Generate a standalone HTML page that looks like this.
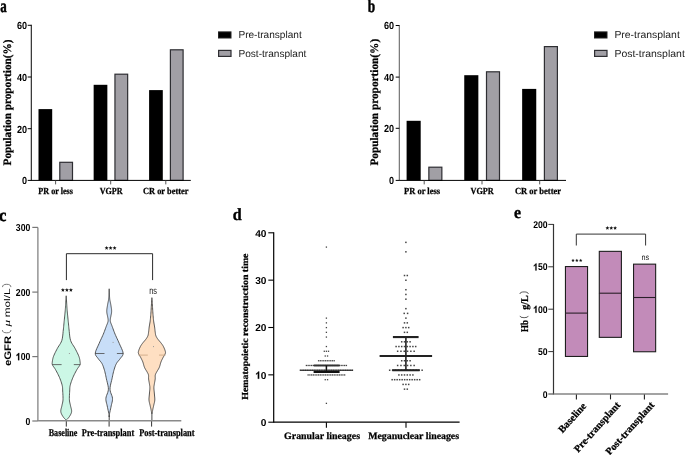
<!DOCTYPE html>
<html><head><meta charset="utf-8"><style>
html,body{margin:0;padding:0;background:#fff;}
svg{display:block;will-change:transform;} text{text-rendering:geometricPrecision;}
</style></head><body>
<svg width="685" height="455" viewBox="0 0 685 455">
<rect width="685" height="455" fill="#fff"/>
<text x="0.36" y="11.9" font-family='"Liberation Serif", serif' font-size="18" font-weight="bold" stroke="#000" stroke-width="0.5" fill="#000" textLength="6.48" lengthAdjust="spacingAndGlyphs">a</text>
<line x1="31.3" y1="24.8" x2="31.3" y2="180.9" stroke="#111" stroke-width="1.05"/>
<line x1="27.7" y1="25.3" x2="31.3" y2="25.3" stroke="#000" stroke-width="1"/>
<text x="16.93" y="29.1" font-family='"Liberation Sans", sans-serif' font-size="10.3" font-weight="bold" fill="#000" textLength="10.1" lengthAdjust="spacingAndGlyphs">60</text>
<line x1="27.7" y1="77" x2="31.3" y2="77" stroke="#000" stroke-width="1"/>
<text x="16.93" y="80.8" font-family='"Liberation Sans", sans-serif' font-size="10.3" font-weight="bold" fill="#000" textLength="10.1" lengthAdjust="spacingAndGlyphs">40</text>
<line x1="27.7" y1="128.7" x2="31.3" y2="128.7" stroke="#000" stroke-width="1"/>
<text x="16.93" y="132.5" font-family='"Liberation Sans", sans-serif' font-size="10.3" font-weight="bold" fill="#000" textLength="10.1" lengthAdjust="spacingAndGlyphs">20</text>
<line x1="27.7" y1="180.4" x2="31.3" y2="180.4" stroke="#000" stroke-width="1"/>
<text x="21.97" y="184.2" font-family='"Liberation Sans", sans-serif' font-size="10.3" font-weight="bold" fill="#000" textLength="5.05" lengthAdjust="spacingAndGlyphs">0</text>
<rect x="38.5" y="109.1" width="13.7" height="71.3" fill="#000"/>
<rect x="59.8" y="162.3" width="12.7" height="18.1" fill="#a19fa5" stroke="#2e2e32" stroke-width="1.2"/>
<rect x="93.65" y="84.8" width="13.7" height="95.6" fill="#000"/>
<rect x="114.95" y="74.2" width="12.7" height="106.2" fill="#a19fa5" stroke="#2e2e32" stroke-width="1.2"/>
<rect x="149.1" y="90.1" width="13.7" height="90.3" fill="#000"/>
<rect x="170.4" y="49.8" width="12.7" height="130.6" fill="#a19fa5" stroke="#2e2e32" stroke-width="1.2"/>
<line x1="31.3" y1="180.4" x2="190.8" y2="180.4" stroke="#000" stroke-width="1"/>
<line x1="55.6" y1="180.4" x2="55.6" y2="184.4" stroke="#444" stroke-width="0.9"/>
<line x1="110.7" y1="180.4" x2="110.7" y2="184.4" stroke="#444" stroke-width="0.9"/>
<line x1="165.8" y1="180.4" x2="165.8" y2="184.4" stroke="#444" stroke-width="0.9"/>
<text x="38.33" y="194.4" font-family='"Liberation Serif", serif' font-size="9.3" font-weight="bold" stroke="#000" stroke-width="0.25" fill="#000" textLength="34.61" lengthAdjust="spacingAndGlyphs">PR or less</text>
<text x="99.67" y="194.4" font-family='"Liberation Serif", serif' font-size="9.3" font-weight="bold" stroke="#000" stroke-width="0.25" fill="#000" textLength="22.92" lengthAdjust="spacingAndGlyphs">VGPR</text>
<text x="143.03" y="194.4" font-family='"Liberation Serif", serif' font-size="9.3" font-weight="bold" stroke="#000" stroke-width="0.25" fill="#000" textLength="45.38" lengthAdjust="spacingAndGlyphs">CR or better</text>
<text transform="translate(11,165.25) rotate(-90)" x="-0.17" y="0" font-family='"Liberation Serif", serif' font-size="11.4" font-weight="bold" stroke="#000" stroke-width="0.25" fill="#000" textLength="125.85" lengthAdjust="spacingAndGlyphs">Population proportion(%)</text>
<rect x="218.5" y="31.9" width="12.5" height="6.1" fill="#000" stroke="#222" stroke-width="1"/>
<rect x="218.6" y="50.4" width="12.4" height="6" fill="#a19fa5" stroke="#2e2e32" stroke-width="1.2"/>
<text x="238.44" y="38.1" font-family='"Liberation Sans", sans-serif' font-size="10.1" font-weight="normal" fill="#1a1a1a" textLength="63.27" lengthAdjust="spacingAndGlyphs">Pre-transplant</text>
<text x="238.44" y="56.6" font-family='"Liberation Sans", sans-serif' font-size="10.1" font-weight="normal" fill="#1a1a1a" textLength="67.97" lengthAdjust="spacingAndGlyphs">Post-transplant</text>
<text x="367.72" y="11.7" font-family='"Liberation Serif", serif' font-size="18" font-weight="bold" stroke="#000" stroke-width="0.5" fill="#000" textLength="7.38" lengthAdjust="spacingAndGlyphs">b</text>
<line x1="399.3" y1="25" x2="399.3" y2="180.9" stroke="#606060" stroke-width="1.05"/>
<line x1="395.7" y1="25.5" x2="399.3" y2="25.5" stroke="#000" stroke-width="1"/>
<text x="384.03" y="29.3" font-family='"Liberation Sans", sans-serif' font-size="10.3" font-weight="bold" fill="#000" textLength="10.1" lengthAdjust="spacingAndGlyphs">60</text>
<line x1="395.7" y1="77.1" x2="399.3" y2="77.1" stroke="#000" stroke-width="1"/>
<text x="384.03" y="80.9" font-family='"Liberation Sans", sans-serif' font-size="10.3" font-weight="bold" fill="#000" textLength="10.1" lengthAdjust="spacingAndGlyphs">40</text>
<line x1="395.7" y1="128.3" x2="399.3" y2="128.3" stroke="#000" stroke-width="1"/>
<text x="384.03" y="132.1" font-family='"Liberation Sans", sans-serif' font-size="10.3" font-weight="bold" fill="#000" textLength="10.1" lengthAdjust="spacingAndGlyphs">20</text>
<line x1="395.7" y1="180.4" x2="399.3" y2="180.4" stroke="#000" stroke-width="1"/>
<text x="389.07" y="184.2" font-family='"Liberation Sans", sans-serif' font-size="10.3" font-weight="bold" fill="#000" textLength="5.05" lengthAdjust="spacingAndGlyphs">0</text>
<rect x="406.6" y="120.8" width="14.1" height="59.6" fill="#000"/>
<rect x="428.85" y="167.2" width="13" height="13.2" fill="#a19fa5" stroke="#2e2e32" stroke-width="1.2"/>
<rect x="464.25" y="75.2" width="14.1" height="105.2" fill="#000"/>
<rect x="486.5" y="71.8" width="13" height="108.6" fill="#a19fa5" stroke="#2e2e32" stroke-width="1.2"/>
<rect x="522.15" y="88.9" width="14.1" height="91.5" fill="#000"/>
<rect x="544.4" y="46.6" width="13" height="133.8" fill="#a19fa5" stroke="#2e2e32" stroke-width="1.2"/>
<line x1="399.3" y1="180.4" x2="566" y2="180.4" stroke="#000" stroke-width="1"/>
<line x1="424.2" y1="180.4" x2="424.2" y2="184.4" stroke="#444" stroke-width="0.9"/>
<line x1="482" y1="180.4" x2="482" y2="184.4" stroke="#444" stroke-width="0.9"/>
<line x1="539.7" y1="180.4" x2="539.7" y2="184.4" stroke="#444" stroke-width="0.9"/>
<text x="404.02" y="194.4" font-family='"Liberation Serif", serif' font-size="9.3" font-weight="bold" stroke="#000" stroke-width="0.25" fill="#000" textLength="36.03" lengthAdjust="spacingAndGlyphs">PR or less</text>
<text x="470.47" y="194.4" font-family='"Liberation Serif", serif' font-size="9.3" font-weight="bold" stroke="#000" stroke-width="0.25" fill="#000" textLength="23.22" lengthAdjust="spacingAndGlyphs">VGPR</text>
<text x="514.92" y="194.4" font-family='"Liberation Serif", serif' font-size="9.3" font-weight="bold" stroke="#000" stroke-width="0.25" fill="#000" textLength="46.19" lengthAdjust="spacingAndGlyphs">CR or better</text>
<text transform="translate(377.7,165.45) rotate(-90)" x="-0.17" y="0" font-family='"Liberation Serif", serif' font-size="11.4" font-weight="bold" stroke="#000" stroke-width="0.25" fill="#000" textLength="126.76" lengthAdjust="spacingAndGlyphs">Population proportion(%)</text>
<rect x="594.5" y="31.9" width="12.5" height="6.1" fill="#000" stroke="#222" stroke-width="1"/>
<rect x="594.6" y="50.4" width="12.4" height="6" fill="#a19fa5" stroke="#2e2e32" stroke-width="1.2"/>
<text x="614.42" y="38.1" font-family='"Liberation Sans", sans-serif' font-size="10.1" font-weight="normal" fill="#1a1a1a" textLength="65.4" lengthAdjust="spacingAndGlyphs">Pre-transplant</text>
<text x="614.41" y="56.6" font-family='"Liberation Sans", sans-serif' font-size="10.1" font-weight="normal" fill="#1a1a1a" textLength="70.4" lengthAdjust="spacingAndGlyphs">Post-transplant</text>
<text x="-1.03" y="221.3" font-family='"Liberation Serif", serif' font-size="17.5" font-weight="bold" stroke="#000" stroke-width="0.5" fill="#000" textLength="7.38" lengthAdjust="spacingAndGlyphs">c</text>
<line x1="37.9" y1="227.4" x2="37.9" y2="421" stroke="#7a7a7a" stroke-width="1.2"/>
<line x1="32.3" y1="227.4" x2="37.9" y2="227.4" stroke="#777" stroke-width="1.2"/>
<text x="15.83" y="231" font-family='"Liberation Sans", sans-serif' font-size="10.2" font-weight="bold" fill="#000" textLength="14.5" lengthAdjust="spacingAndGlyphs">300</text>
<line x1="32.3" y1="292.1" x2="37.9" y2="292.1" stroke="#777" stroke-width="1.2"/>
<text x="15.83" y="295.7" font-family='"Liberation Sans", sans-serif' font-size="10.2" font-weight="bold" fill="#000" textLength="14.5" lengthAdjust="spacingAndGlyphs">200</text>
<line x1="32.3" y1="356.6" x2="37.9" y2="356.6" stroke="#777" stroke-width="1.2"/>
<path d="M19.25,360.2L18.06,360.2L18.06,354.97C17.62,355.45 17.12,355.8 16.51,356.07L16.51,354.81C16.83,354.68 17.21,354.44 17.61,354.07C18.01,353.7 18.28,353.32 18.44,352.9L19.25,352.9Z" fill="#000" stroke="#000" stroke-width="0.2"/>
<text x="20.65" y="360.2" font-family='"Liberation Sans", sans-serif' font-size="10.2" font-weight="bold" fill="#000" textLength="4.83" lengthAdjust="spacingAndGlyphs">0</text>
<text x="25.48" y="360.2" font-family='"Liberation Sans", sans-serif' font-size="10.2" font-weight="bold" fill="#000" textLength="4.83" lengthAdjust="spacingAndGlyphs">0</text>
<line x1="32.3" y1="421" x2="37.9" y2="421" stroke="#777" stroke-width="1.2"/>
<text x="25.48" y="424.6" font-family='"Liberation Sans", sans-serif' font-size="10.2" font-weight="bold" fill="#000" textLength="4.83" lengthAdjust="spacingAndGlyphs">0</text>
<path d="M66.2,295.8 L66.24,296.49 L66.31,297.45 L66.38,298.59 L66.46,299.79 L66.53,300.96 L66.6,302 L66.65,302.9 L66.7,303.76 L66.75,304.57 L66.8,305.38 L66.85,306.18 L66.9,307 L66.96,307.82 L67.02,308.63 L67.08,309.44 L67.15,310.26 L67.22,311.11 L67.3,312 L67.39,312.93 L67.48,313.89 L67.58,314.88 L67.69,315.89 L67.79,316.93 L67.9,318 L68.01,319.13 L68.13,320.33 L68.26,321.56 L68.38,322.78 L68.49,323.94 L68.6,325 L68.68,325.89 L68.74,326.61 L68.8,327.28 L68.87,328 L68.96,328.87 L69.1,330 L69.26,331.46 L69.41,333.19 L69.6,335.06 L69.84,336.98 L70.16,338.83 L70.6,340.5 L71.18,341.98 L71.9,343.36 L72.71,344.66 L73.54,345.93 L74.36,347.2 L75.1,348.5 L75.8,349.85 L76.51,351.23 L77.21,352.6 L77.85,353.94 L78.43,355.22 L78.9,356.4 L79.27,357.5 L79.54,358.53 L79.75,359.51 L79.9,360.41 L80.01,361.24 L80.1,362 L80.18,362.63 L80.24,363.13 L80.26,363.56 L80.23,363.98 L80.11,364.44 L79.9,365 L79.57,365.64 L79.14,366.29 L78.64,366.99 L78.08,367.76 L77.49,368.62 L76.9,369.6 L76.28,370.73 L75.59,371.99 L74.88,373.34 L74.17,374.74 L73.5,376.15 L72.9,377.5 L72.35,378.84 L71.82,380.22 L71.33,381.59 L70.89,382.94 L70.51,384.22 L70.2,385.4 L69.99,386.43 L69.86,387.32 L69.8,388.14 L69.77,388.98 L69.75,389.91 L69.7,391 L69.62,392.32 L69.53,393.8 L69.45,395.38 L69.39,396.96 L69.37,398.46 L69.4,399.8 L69.5,400.95 L69.66,401.98 L69.86,402.93 L70.08,403.84 L70.3,404.75 L70.5,405.7 L70.72,406.69 L70.99,407.7 L71.26,408.71 L71.48,409.7 L71.61,410.67 L71.6,411.6 L71.44,412.5 L71.15,413.39 L70.77,414.24 L70.33,415.07 L69.86,415.86 L69.4,416.6 L68.89,417.32 L68.29,418.04 L67.66,418.71 L67.07,419.32 L66.56,419.82 L66.2,420.2 L66.2,420.2 L65.84,419.82 L65.33,419.32 L64.74,418.71 L64.11,418.04 L63.51,417.32 L63,416.6 L62.54,415.86 L62.07,415.07 L61.63,414.24 L61.25,413.39 L60.96,412.5 L60.8,411.6 L60.79,410.67 L60.92,409.7 L61.14,408.71 L61.41,407.7 L61.68,406.69 L61.9,405.7 L62.1,404.75 L62.32,403.84 L62.54,402.93 L62.74,401.98 L62.9,400.95 L63,399.8 L63.03,398.46 L63.01,396.96 L62.95,395.38 L62.87,393.8 L62.78,392.32 L62.7,391 L62.65,389.91 L62.63,388.98 L62.6,388.14 L62.54,387.32 L62.41,386.43 L62.2,385.4 L61.89,384.22 L61.51,382.94 L61.07,381.59 L60.58,380.22 L60.05,378.84 L59.5,377.5 L58.9,376.15 L58.23,374.74 L57.52,373.34 L56.81,371.99 L56.12,370.73 L55.5,369.6 L54.91,368.62 L54.32,367.76 L53.76,366.99 L53.26,366.29 L52.83,365.64 L52.5,365 L52.29,364.44 L52.17,363.98 L52.14,363.56 L52.16,363.13 L52.22,362.63 L52.3,362 L52.39,361.24 L52.5,360.41 L52.65,359.51 L52.86,358.53 L53.13,357.5 L53.5,356.4 L53.97,355.22 L54.55,353.94 L55.19,352.6 L55.89,351.23 L56.6,349.85 L57.3,348.5 L58.04,347.2 L58.86,345.93 L59.69,344.66 L60.5,343.36 L61.22,341.98 L61.8,340.5 L62.24,338.83 L62.56,336.98 L62.8,335.06 L62.99,333.19 L63.14,331.46 L63.3,330 L63.44,328.87 L63.53,328 L63.6,327.28 L63.66,326.61 L63.72,325.89 L63.8,325 L63.91,323.94 L64.02,322.78 L64.14,321.56 L64.27,320.33 L64.39,319.13 L64.5,318 L64.61,316.93 L64.71,315.89 L64.82,314.88 L64.92,313.89 L65.01,312.93 L65.1,312 L65.18,311.11 L65.25,310.26 L65.32,309.44 L65.38,308.63 L65.44,307.82 L65.5,307 L65.55,306.18 L65.6,305.38 L65.65,304.57 L65.7,303.76 L65.75,302.9 L65.8,302 L65.87,300.96 L65.94,299.79 L66.02,298.59 L66.09,297.45 L66.16,296.49 L66.2,295.8Z" fill="#ccf7e6" stroke="#3a3a3a" stroke-width="0.85" stroke-linejoin="round"/>
<line x1="52.1" y1="364.6" x2="61.6" y2="364.6" stroke="#4a4a4a" stroke-width="0.8"/>
<line x1="73.8" y1="364.6" x2="80.3" y2="364.6" stroke="#4a4a4a" stroke-width="0.8"/>
<path d="M109.2,288.8 L109.21,289.14 L109.22,289.6 L109.24,290.15 L109.26,290.76 L109.28,291.38 L109.3,292 L109.33,292.62 L109.36,293.29 L109.39,293.98 L109.42,294.67 L109.46,295.35 L109.5,296 L109.54,296.63 L109.58,297.24 L109.62,297.84 L109.67,298.43 L109.73,299.02 L109.8,299.6 L109.89,300.18 L110.01,300.74 L110.13,301.31 L110.26,301.87 L110.38,302.43 L110.5,303 L110.61,303.58 L110.71,304.16 L110.81,304.74 L110.91,305.33 L111.01,305.92 L111.1,306.5 L111.2,307.09 L111.3,307.69 L111.39,308.28 L111.48,308.87 L111.55,309.45 L111.6,310 L111.62,310.52 L111.63,311.02 L111.62,311.5 L111.6,311.98 L111.56,312.48 L111.5,313 L111.42,313.56 L111.3,314.15 L111.17,314.75 L111.04,315.35 L110.91,315.94 L110.8,316.5 L110.7,317.03 L110.59,317.56 L110.49,318.06 L110.41,318.56 L110.34,319.03 L110.3,319.5 L110.28,319.92 L110.26,320.3 L110.26,320.66 L110.3,321.04 L110.37,321.47 L110.5,322 L110.68,322.6 L110.91,323.23 L111.18,323.93 L111.49,324.69 L111.83,325.54 L112.2,326.5 L112.6,327.58 L113.03,328.77 L113.49,330.05 L113.99,331.4 L114.53,332.79 L115.1,334.2 L115.73,335.65 L116.42,337.17 L117.14,338.73 L117.88,340.31 L118.61,341.91 L119.3,343.5 L120.03,345.14 L120.84,346.87 L121.64,348.6 L122.34,350.28 L122.85,351.83 L123.1,353.2 L123.03,354.34 L122.7,355.3 L122.18,356.14 L121.56,356.91 L120.91,357.68 L120.3,358.5 L119.7,359.34 L119.03,360.15 L118.33,360.96 L117.64,361.78 L116.98,362.65 L116.4,363.6 L115.9,364.62 L115.44,365.68 L115.03,366.79 L114.64,367.95 L114.27,369.15 L113.9,370.4 L113.55,371.68 L113.23,373 L112.92,374.37 L112.62,375.79 L112.32,377.26 L112,378.8 L111.62,380.45 L111.17,382.2 L110.73,384.01 L110.34,385.83 L110.07,387.61 L110,389.3 L110.2,390.9 L110.64,392.46 L111.21,393.98 L111.78,395.46 L112.25,396.9 L112.5,398.3 L112.51,399.64 L112.37,400.9 L112.12,402.13 L111.81,403.35 L111.49,404.6 L111.2,405.9 L110.91,407.33 L110.58,408.89 L110.23,410.47 L109.9,411.98 L109.61,413.32 L109.4,414.4 L109.27,415.19 L109.21,415.77 L109.2,416.18 L109.2,416.47 L109.2,416.7 L109.2,416.9 L109.2,416.9 L109.2,416.7 L109.2,416.47 L109.2,416.18 L109.19,415.77 L109.13,415.19 L109,414.4 L108.79,413.32 L108.5,411.98 L108.17,410.47 L107.82,408.89 L107.49,407.33 L107.2,405.9 L106.91,404.6 L106.59,403.35 L106.28,402.13 L106.03,400.9 L105.89,399.64 L105.9,398.3 L106.15,396.9 L106.62,395.46 L107.19,393.98 L107.76,392.46 L108.2,390.9 L108.4,389.3 L108.33,387.61 L108.06,385.83 L107.67,384.01 L107.23,382.2 L106.78,380.45 L106.4,378.8 L106.08,377.26 L105.78,375.79 L105.48,374.37 L105.17,373 L104.85,371.68 L104.5,370.4 L104.13,369.15 L103.76,367.95 L103.38,366.79 L102.96,365.68 L102.5,364.62 L102,363.6 L101.42,362.65 L100.76,361.78 L100.07,360.96 L99.37,360.15 L98.7,359.34 L98.1,358.5 L97.49,357.68 L96.84,356.91 L96.22,356.14 L95.7,355.3 L95.37,354.34 L95.3,353.2 L95.55,351.83 L96.06,350.28 L96.76,348.6 L97.56,346.87 L98.37,345.14 L99.1,343.5 L99.79,341.91 L100.52,340.31 L101.26,338.73 L101.98,337.17 L102.67,335.65 L103.3,334.2 L103.87,332.79 L104.41,331.4 L104.91,330.05 L105.37,328.77 L105.8,327.58 L106.2,326.5 L106.57,325.54 L106.91,324.69 L107.22,323.93 L107.49,323.23 L107.72,322.6 L107.9,322 L108.03,321.47 L108.1,321.04 L108.14,320.66 L108.14,320.3 L108.12,319.92 L108.1,319.5 L108.06,319.03 L107.99,318.56 L107.91,318.06 L107.81,317.56 L107.7,317.03 L107.6,316.5 L107.49,315.94 L107.36,315.35 L107.23,314.75 L107.1,314.15 L106.98,313.56 L106.9,313 L106.84,312.48 L106.8,311.98 L106.78,311.5 L106.77,311.02 L106.78,310.52 L106.8,310 L106.85,309.45 L106.92,308.87 L107.01,308.28 L107.1,307.69 L107.2,307.09 L107.3,306.5 L107.39,305.92 L107.49,305.33 L107.59,304.74 L107.69,304.16 L107.79,303.58 L107.9,303 L108.02,302.43 L108.14,301.87 L108.27,301.31 L108.39,300.74 L108.51,300.18 L108.6,299.6 L108.67,299.02 L108.73,298.43 L108.78,297.84 L108.82,297.24 L108.86,296.63 L108.9,296 L108.94,295.35 L108.98,294.67 L109.01,293.98 L109.04,293.29 L109.07,292.62 L109.1,292 L109.12,291.38 L109.14,290.76 L109.16,290.15 L109.18,289.6 L109.19,289.14 L109.2,288.8Z" fill="#c8def8" stroke="#3a3a3a" stroke-width="0.85" stroke-linejoin="round"/>
<line x1="95" y1="353.5" x2="104.5" y2="353.5" stroke="#4a4a4a" stroke-width="0.8"/>
<line x1="116.9" y1="353.5" x2="123.4" y2="353.5" stroke="#4a4a4a" stroke-width="0.8"/>
<path d="M151.9,297.7 L151.95,298.48 L152.03,299.56 L152.12,300.84 L152.21,302.24 L152.31,303.65 L152.4,305 L152.48,306.31 L152.56,307.66 L152.64,309.03 L152.72,310.4 L152.81,311.76 L152.9,313.1 L153,314.42 L153.11,315.75 L153.22,317.07 L153.34,318.36 L153.46,319.61 L153.6,320.8 L153.75,321.93 L153.93,323.02 L154.11,324.07 L154.29,325.08 L154.45,326.05 L154.6,327 L154.72,327.92 L154.83,328.81 L154.93,329.67 L155.01,330.49 L155.1,331.27 L155.2,332 L155.29,332.67 L155.36,333.29 L155.43,333.86 L155.51,334.4 L155.63,334.95 L155.8,335.5 L156.01,336.05 L156.24,336.57 L156.51,337.09 L156.82,337.63 L157.18,338.19 L157.6,338.8 L158.11,339.48 L158.72,340.23 L159.38,341 L160.04,341.77 L160.66,342.52 L161.2,343.2 L161.65,343.8 L162.05,344.34 L162.41,344.85 L162.75,345.36 L163.07,345.9 L163.4,346.5 L163.74,347.19 L164.09,347.95 L164.43,348.74 L164.74,349.53 L165,350.26 L165.2,350.9 L165.34,351.42 L165.44,351.85 L165.5,352.22 L165.5,352.6 L165.44,353.01 L165.3,353.5 L165.07,354.08 L164.73,354.71 L164.34,355.39 L163.91,356.09 L163.49,356.79 L163.1,357.5 L162.74,358.2 L162.38,358.9 L162.02,359.61 L161.67,360.34 L161.33,361.1 L161,361.9 L160.7,362.77 L160.43,363.69 L160.18,364.65 L159.91,365.61 L159.62,366.53 L159.3,367.4 L158.92,368.21 L158.49,368.99 L158.04,369.74 L157.59,370.46 L157.17,371.15 L156.8,371.8 L156.48,372.39 L156.17,372.93 L155.9,373.43 L155.66,373.92 L155.46,374.43 L155.3,375 L155.21,375.61 L155.19,376.23 L155.21,376.87 L155.24,377.54 L155.25,378.25 L155.2,379 L155.09,379.83 L154.94,380.73 L154.77,381.67 L154.59,382.6 L154.43,383.49 L154.3,384.3 L154.19,384.98 L154.1,385.57 L154.01,386.11 L153.95,386.66 L153.91,387.27 L153.9,388 L153.93,388.87 L154,389.83 L154.1,390.86 L154.21,391.91 L154.31,392.97 L154.4,394 L154.49,395.01 L154.59,396.04 L154.69,397.06 L154.77,398.07 L154.82,399.06 L154.8,400 L154.71,400.9 L154.57,401.78 L154.38,402.62 L154.18,403.44 L153.98,404.24 L153.8,405 L153.64,405.74 L153.48,406.44 L153.33,407.12 L153.17,407.78 L153.03,408.4 L152.9,409 L152.78,409.57 L152.67,410.13 L152.57,410.65 L152.47,411.14 L152.38,411.59 L152.3,412 L152.22,412.37 L152.14,412.7 L152.06,412.99 L152,413.24 L151.94,413.44 L151.9,413.6 L151.9,413.6 L151.86,413.44 L151.8,413.24 L151.74,412.99 L151.66,412.7 L151.58,412.37 L151.5,412 L151.42,411.59 L151.33,411.14 L151.23,410.65 L151.13,410.13 L151.02,409.57 L150.9,409 L150.77,408.4 L150.63,407.78 L150.47,407.12 L150.32,406.44 L150.16,405.74 L150,405 L149.82,404.24 L149.62,403.44 L149.42,402.62 L149.23,401.78 L149.09,400.9 L149,400 L148.98,399.06 L149.03,398.07 L149.11,397.06 L149.21,396.04 L149.31,395.01 L149.4,394 L149.49,392.97 L149.59,391.91 L149.7,390.86 L149.8,389.83 L149.87,388.87 L149.9,388 L149.89,387.27 L149.85,386.66 L149.79,386.11 L149.7,385.57 L149.61,384.98 L149.5,384.3 L149.37,383.49 L149.21,382.6 L149.03,381.67 L148.86,380.73 L148.71,379.83 L148.6,379 L148.55,378.25 L148.56,377.54 L148.59,376.87 L148.61,376.23 L148.59,375.61 L148.5,375 L148.34,374.43 L148.14,373.92 L147.9,373.43 L147.63,372.93 L147.32,372.39 L147,371.8 L146.63,371.15 L146.21,370.46 L145.76,369.74 L145.31,368.99 L144.88,368.21 L144.5,367.4 L144.18,366.53 L143.89,365.61 L143.62,364.65 L143.37,363.69 L143.1,362.77 L142.8,361.9 L142.47,361.1 L142.13,360.34 L141.78,359.61 L141.42,358.9 L141.06,358.2 L140.7,357.5 L140.31,356.79 L139.89,356.09 L139.46,355.39 L139.07,354.71 L138.73,354.08 L138.5,353.5 L138.36,353.01 L138.3,352.6 L138.3,352.22 L138.36,351.85 L138.46,351.42 L138.6,350.9 L138.8,350.26 L139.06,349.53 L139.37,348.74 L139.71,347.95 L140.06,347.19 L140.4,346.5 L140.73,345.9 L141.05,345.36 L141.39,344.85 L141.75,344.34 L142.15,343.8 L142.6,343.2 L143.14,342.52 L143.76,341.77 L144.43,341 L145.08,340.23 L145.69,339.48 L146.2,338.8 L146.62,338.19 L146.98,337.63 L147.29,337.09 L147.56,336.57 L147.79,336.05 L148,335.5 L148.17,334.95 L148.29,334.4 L148.38,333.86 L148.44,333.29 L148.51,332.67 L148.6,332 L148.7,331.27 L148.79,330.49 L148.88,329.67 L148.97,328.81 L149.08,327.92 L149.2,327 L149.35,326.05 L149.51,325.08 L149.69,324.07 L149.87,323.02 L150.05,321.93 L150.2,320.8 L150.34,319.61 L150.46,318.36 L150.58,317.07 L150.69,315.75 L150.8,314.42 L150.9,313.1 L150.99,311.76 L151.08,310.4 L151.16,309.03 L151.24,307.66 L151.32,306.31 L151.4,305 L151.49,303.65 L151.59,302.24 L151.68,300.84 L151.77,299.56 L151.85,298.48 L151.9,297.7Z" fill="#fedfc2" stroke="#3a3a3a" stroke-width="0.85" stroke-linejoin="round"/>
<line x1="138.3" y1="355.1" x2="147.8" y2="355.1" stroke="#c9a27f" stroke-width="0.8"/>
<line x1="159" y1="355.1" x2="165.5" y2="355.1" stroke="#c9a27f" stroke-width="0.8"/>
<line x1="151.9" y1="412.5" x2="151.9" y2="420.5" stroke="#333" stroke-width="0.9"/>
<line x1="109.2" y1="415.5" x2="109.2" y2="420.5" stroke="#333" stroke-width="0.9"/>
<rect x="68.9" y="353" width="1" height="1" fill="#999"/>
<rect x="112.6" y="341.9" width="1" height="1" fill="#999"/>
<rect x="153" y="346.1" width="1" height="1" fill="#999"/>
<line x1="37.9" y1="420.8" x2="181.3" y2="420.8" stroke="#8a8a8a" stroke-width="1.4"/>
<line x1="66.3" y1="421.3" x2="66.3" y2="426.6" stroke="#333" stroke-width="1"/>
<line x1="109.1" y1="421.3" x2="109.1" y2="426.6" stroke="#333" stroke-width="1"/>
<line x1="151.6" y1="421.3" x2="151.6" y2="426.6" stroke="#333" stroke-width="1"/>
<text x="48.73" y="436" font-family='"Liberation Serif", serif' font-size="10.3" font-weight="bold" stroke="#000" stroke-width="0.25" fill="#000" textLength="28.73" lengthAdjust="spacingAndGlyphs">Baseline</text>
<text x="81.82" y="436" font-family='"Liberation Serif", serif' font-size="10.3" font-weight="bold" stroke="#000" stroke-width="0.25" fill="#000" textLength="52.36" lengthAdjust="spacingAndGlyphs">Pre-transplant</text>
<text x="139.22" y="436" font-family='"Liberation Serif", serif' font-size="10.3" font-weight="bold" stroke="#000" stroke-width="0.25" fill="#000" textLength="55.34" lengthAdjust="spacingAndGlyphs">Post-transplant</text>
<path d="M66.4,280.1 V253.7 H152.6 V280.1" fill="none" stroke="#2a2a2a" stroke-width="1"/>
<polygon points="106.6,245.9 107.16,247.24 108.6,247.35 107.5,248.29 107.83,249.7 106.6,248.94 105.37,249.7 105.7,248.29 104.6,247.35 106.04,247.24" fill="#151515"/>
<polygon points="110.6,245.9 111.16,247.24 112.6,247.35 111.5,248.29 111.83,249.7 110.6,248.94 109.37,249.7 109.7,248.29 108.6,247.35 110.04,247.24" fill="#151515"/>
<polygon points="114.6,245.9 115.16,247.24 116.6,247.35 115.5,248.29 115.83,249.7 114.6,248.94 113.37,249.7 113.7,248.29 112.6,247.35 114.04,247.24" fill="#151515"/>
<polygon points="62.9,287.9 63.46,289.24 64.9,289.35 63.8,290.29 64.13,291.7 62.9,290.94 61.67,291.7 62,290.29 60.9,289.35 62.34,289.24" fill="#151515"/>
<polygon points="66.9,287.9 67.46,289.24 68.9,289.35 67.8,290.29 68.13,291.7 66.9,290.94 65.67,291.7 66,290.29 64.9,289.35 66.34,289.24" fill="#151515"/>
<polygon points="70.9,287.9 71.46,289.24 72.9,289.35 71.8,290.29 72.13,291.7 70.9,290.94 69.67,291.7 70,290.29 68.9,289.35 70.34,289.24" fill="#151515"/>
<text x="149.27" y="294" font-family='"Liberation Sans", sans-serif' font-size="10" font-weight="normal" fill="#111" textLength="7.74" lengthAdjust="spacingAndGlyphs">ns</text>
<text transform="translate(10.6,365.65) rotate(-90)" x="-0.45" y="0" font-family='"Liberation Sans", sans-serif' font-size="9.6" font-weight="bold" fill="#000" textLength="30.3" lengthAdjust="spacingAndGlyphs">eGFR</text>
<path d="M2.4,330.1 A4.25,2.7 0 0 0 10.9,330.1" fill="none" stroke="#555" stroke-width="0.8"/>
<text transform="translate(9.9,326.45) rotate(-90)" x="-0" y="0" font-family='"Liberation Serif", serif' font-size="9" font-style="italic" fill="#000" textLength="6.62" lengthAdjust="spacingAndGlyphs">μ</text>
<text transform="translate(10,316.55) rotate(-90)" x="-0.77" y="0" font-family='"Liberation Sans", sans-serif' font-size="8.4" font-weight="normal" fill="#000" textLength="28.93" lengthAdjust="spacingAndGlyphs">mol/L</text>
<path d="M2.5,287.1 A4.2,2.8 0 0 1 10.9,287.1" fill="none" stroke="#555" stroke-width="0.8"/>
<text x="232.81" y="220.4" font-family='"Liberation Serif", serif' font-size="17" font-weight="bold" stroke="#000" stroke-width="0.4" fill="#000" textLength="8.92" lengthAdjust="spacingAndGlyphs">d</text>
<line x1="273.7" y1="232.3" x2="273.7" y2="422.8" stroke="#000" stroke-width="1.2"/>
<line x1="268.3" y1="232.8" x2="273.7" y2="232.8" stroke="#000" stroke-width="1.1"/>
<text x="255.2" y="236.7" font-family='"Liberation Sans", sans-serif' font-size="10" font-weight="bold" fill="#000" textLength="11.28" lengthAdjust="spacingAndGlyphs">40</text>
<line x1="268.3" y1="280.15" x2="273.7" y2="280.15" stroke="#000" stroke-width="1.1"/>
<text x="255.2" y="284.05" font-family='"Liberation Sans", sans-serif' font-size="10" font-weight="bold" fill="#000" textLength="11.28" lengthAdjust="spacingAndGlyphs">30</text>
<line x1="268.3" y1="327.5" x2="273.7" y2="327.5" stroke="#000" stroke-width="1.1"/>
<text x="255.2" y="331.4" font-family='"Liberation Sans", sans-serif' font-size="10" font-weight="bold" fill="#000" textLength="11.28" lengthAdjust="spacingAndGlyphs">20</text>
<line x1="268.3" y1="374.85" x2="273.7" y2="374.85" stroke="#000" stroke-width="1.1"/>
<path d="M259.2,378.75L257.81,378.75L257.81,373.62C257.3,374.09 256.71,374.44 256,374.7L256,373.47C256.38,373.34 256.81,373.1 257.28,372.74C257.75,372.38 258.07,372 258.25,371.59L259.2,371.59Z" fill="#000" stroke="#000" stroke-width="0.2"/>
<text x="260.83" y="378.75" font-family='"Liberation Sans", sans-serif' font-size="10" font-weight="bold" fill="#000" textLength="5.64" lengthAdjust="spacingAndGlyphs">0</text>
<line x1="268.3" y1="422.2" x2="273.7" y2="422.2" stroke="#000" stroke-width="1.1"/>
<text x="260.83" y="426.1" font-family='"Liberation Sans", sans-serif' font-size="10" font-weight="bold" fill="#000" textLength="5.64" lengthAdjust="spacingAndGlyphs">0</text>
<line x1="273.7" y1="422.2" x2="459.6" y2="422.2" stroke="#000" stroke-width="1.3"/>
<line x1="326.4" y1="422.2" x2="326.4" y2="427.8" stroke="#000" stroke-width="1.1"/>
<line x1="406" y1="422.2" x2="406" y2="427.8" stroke="#000" stroke-width="1.1"/>
<text x="284.06" y="438.8" font-family='"Liberation Serif", serif' font-size="9.8" font-weight="bold" stroke="#000" stroke-width="0.25" fill="#000" textLength="75.95" lengthAdjust="spacingAndGlyphs">Granular lineages</text>
<text x="368.2" y="438.8" font-family='"Liberation Serif", serif' font-size="9.8" font-weight="bold" stroke="#000" stroke-width="0.25" fill="#000" textLength="90.89" lengthAdjust="spacingAndGlyphs">Meganuclear lineages</text>
<text transform="translate(248,399.65) rotate(-90)" x="-0.15" y="0" font-family='"Liberation Serif", serif' font-size="9.2" font-weight="bold" stroke="#000" stroke-width="0.25" fill="#000" textLength="146.3" lengthAdjust="spacingAndGlyphs">Hematopoietic reconstruction time</text>
<rect x="325.75" y="246.45" width="1.3" height="1.3" fill="#444"/>
<rect x="325.75" y="317.48" width="1.3" height="1.3" fill="#444"/>
<rect x="325.75" y="322.22" width="1.3" height="1.3" fill="#444"/>
<rect x="325.75" y="326.95" width="1.3" height="1.3" fill="#444"/>
<rect x="325.75" y="331.69" width="1.3" height="1.3" fill="#444"/>
<rect x="325.75" y="336.42" width="1.3" height="1.3" fill="#444"/>
<rect x="325.75" y="345.89" width="1.3" height="1.3" fill="#444"/>
<rect x="323.65" y="350.62" width="1.3" height="1.3" fill="#444"/>
<rect x="325.75" y="350.62" width="1.3" height="1.3" fill="#444"/>
<rect x="327.85" y="350.62" width="1.3" height="1.3" fill="#444"/>
<rect x="324.6" y="355.36" width="1.3" height="1.3" fill="#444"/>
<rect x="326.9" y="355.36" width="1.3" height="1.3" fill="#444"/>
<rect x="317.92" y="360.1" width="1.3" height="1.3" fill="#444"/>
<rect x="319.66" y="360.1" width="1.3" height="1.3" fill="#444"/>
<rect x="321.4" y="360.1" width="1.3" height="1.3" fill="#444"/>
<rect x="323.14" y="360.1" width="1.3" height="1.3" fill="#444"/>
<rect x="324.88" y="360.1" width="1.3" height="1.3" fill="#444"/>
<rect x="326.62" y="360.1" width="1.3" height="1.3" fill="#444"/>
<rect x="328.36" y="360.1" width="1.3" height="1.3" fill="#444"/>
<rect x="330.1" y="360.1" width="1.3" height="1.3" fill="#444"/>
<rect x="331.84" y="360.1" width="1.3" height="1.3" fill="#444"/>
<rect x="333.58" y="360.1" width="1.3" height="1.3" fill="#444"/>
<rect x="305.74" y="364.83" width="1.3" height="1.3" fill="#444"/>
<rect x="307.48" y="364.83" width="1.3" height="1.3" fill="#444"/>
<rect x="309.22" y="364.83" width="1.3" height="1.3" fill="#444"/>
<rect x="310.96" y="364.83" width="1.3" height="1.3" fill="#444"/>
<rect x="312.7" y="364.83" width="1.3" height="1.3" fill="#444"/>
<rect x="314.44" y="364.83" width="1.3" height="1.3" fill="#444"/>
<rect x="316.18" y="364.83" width="1.3" height="1.3" fill="#444"/>
<rect x="317.92" y="364.83" width="1.3" height="1.3" fill="#444"/>
<rect x="319.66" y="364.83" width="1.3" height="1.3" fill="#444"/>
<rect x="321.4" y="364.83" width="1.3" height="1.3" fill="#444"/>
<rect x="323.14" y="364.83" width="1.3" height="1.3" fill="#444"/>
<rect x="324.88" y="364.83" width="1.3" height="1.3" fill="#444"/>
<rect x="326.62" y="364.83" width="1.3" height="1.3" fill="#444"/>
<rect x="328.36" y="364.83" width="1.3" height="1.3" fill="#444"/>
<rect x="330.1" y="364.83" width="1.3" height="1.3" fill="#444"/>
<rect x="331.84" y="364.83" width="1.3" height="1.3" fill="#444"/>
<rect x="333.58" y="364.83" width="1.3" height="1.3" fill="#444"/>
<rect x="335.32" y="364.83" width="1.3" height="1.3" fill="#444"/>
<rect x="337.06" y="364.83" width="1.3" height="1.3" fill="#444"/>
<rect x="338.8" y="364.83" width="1.3" height="1.3" fill="#444"/>
<rect x="340.54" y="364.83" width="1.3" height="1.3" fill="#444"/>
<rect x="342.28" y="364.83" width="1.3" height="1.3" fill="#444"/>
<rect x="344.02" y="364.83" width="1.3" height="1.3" fill="#444"/>
<rect x="345.76" y="364.83" width="1.3" height="1.3" fill="#444"/>
<rect x="299.65" y="369.57" width="1.3" height="1.3" fill="#444"/>
<rect x="301.39" y="369.57" width="1.3" height="1.3" fill="#444"/>
<rect x="303.13" y="369.57" width="1.3" height="1.3" fill="#444"/>
<rect x="304.87" y="369.57" width="1.3" height="1.3" fill="#444"/>
<rect x="306.61" y="369.57" width="1.3" height="1.3" fill="#444"/>
<rect x="308.35" y="369.57" width="1.3" height="1.3" fill="#444"/>
<rect x="310.09" y="369.57" width="1.3" height="1.3" fill="#444"/>
<rect x="311.83" y="369.57" width="1.3" height="1.3" fill="#444"/>
<rect x="313.57" y="369.57" width="1.3" height="1.3" fill="#444"/>
<rect x="315.31" y="369.57" width="1.3" height="1.3" fill="#444"/>
<rect x="317.05" y="369.57" width="1.3" height="1.3" fill="#444"/>
<rect x="318.79" y="369.57" width="1.3" height="1.3" fill="#444"/>
<rect x="320.53" y="369.57" width="1.3" height="1.3" fill="#444"/>
<rect x="322.27" y="369.57" width="1.3" height="1.3" fill="#444"/>
<rect x="324.01" y="369.57" width="1.3" height="1.3" fill="#444"/>
<rect x="325.75" y="369.57" width="1.3" height="1.3" fill="#444"/>
<rect x="327.49" y="369.57" width="1.3" height="1.3" fill="#444"/>
<rect x="329.23" y="369.57" width="1.3" height="1.3" fill="#444"/>
<rect x="330.97" y="369.57" width="1.3" height="1.3" fill="#444"/>
<rect x="332.71" y="369.57" width="1.3" height="1.3" fill="#444"/>
<rect x="334.45" y="369.57" width="1.3" height="1.3" fill="#444"/>
<rect x="336.19" y="369.57" width="1.3" height="1.3" fill="#444"/>
<rect x="337.93" y="369.57" width="1.3" height="1.3" fill="#444"/>
<rect x="339.67" y="369.57" width="1.3" height="1.3" fill="#444"/>
<rect x="341.41" y="369.57" width="1.3" height="1.3" fill="#444"/>
<rect x="343.15" y="369.57" width="1.3" height="1.3" fill="#444"/>
<rect x="344.89" y="369.57" width="1.3" height="1.3" fill="#444"/>
<rect x="346.63" y="369.57" width="1.3" height="1.3" fill="#444"/>
<rect x="348.37" y="369.57" width="1.3" height="1.3" fill="#444"/>
<rect x="350.11" y="369.57" width="1.3" height="1.3" fill="#444"/>
<rect x="351.85" y="369.57" width="1.3" height="1.3" fill="#444"/>
<rect x="307.48" y="374.3" width="1.3" height="1.3" fill="#444"/>
<rect x="309.22" y="374.3" width="1.3" height="1.3" fill="#444"/>
<rect x="310.96" y="374.3" width="1.3" height="1.3" fill="#444"/>
<rect x="312.7" y="374.3" width="1.3" height="1.3" fill="#444"/>
<rect x="314.44" y="374.3" width="1.3" height="1.3" fill="#444"/>
<rect x="316.18" y="374.3" width="1.3" height="1.3" fill="#444"/>
<rect x="317.92" y="374.3" width="1.3" height="1.3" fill="#444"/>
<rect x="319.66" y="374.3" width="1.3" height="1.3" fill="#444"/>
<rect x="321.4" y="374.3" width="1.3" height="1.3" fill="#444"/>
<rect x="323.14" y="374.3" width="1.3" height="1.3" fill="#444"/>
<rect x="324.88" y="374.3" width="1.3" height="1.3" fill="#444"/>
<rect x="326.62" y="374.3" width="1.3" height="1.3" fill="#444"/>
<rect x="328.36" y="374.3" width="1.3" height="1.3" fill="#444"/>
<rect x="330.1" y="374.3" width="1.3" height="1.3" fill="#444"/>
<rect x="331.84" y="374.3" width="1.3" height="1.3" fill="#444"/>
<rect x="333.58" y="374.3" width="1.3" height="1.3" fill="#444"/>
<rect x="335.32" y="374.3" width="1.3" height="1.3" fill="#444"/>
<rect x="337.06" y="374.3" width="1.3" height="1.3" fill="#444"/>
<rect x="338.8" y="374.3" width="1.3" height="1.3" fill="#444"/>
<rect x="340.54" y="374.3" width="1.3" height="1.3" fill="#444"/>
<rect x="342.28" y="374.3" width="1.3" height="1.3" fill="#444"/>
<rect x="344.02" y="374.3" width="1.3" height="1.3" fill="#444"/>
<rect x="324.6" y="379.04" width="1.3" height="1.3" fill="#444"/>
<rect x="326.9" y="379.04" width="1.3" height="1.3" fill="#444"/>
<rect x="325.75" y="402.71" width="1.3" height="1.3" fill="#444"/>
<rect x="405.15" y="241.62" width="1.5" height="1.5" fill="#444"/>
<rect x="405.15" y="251.09" width="1.5" height="1.5" fill="#444"/>
<rect x="403.75" y="274.76" width="1.5" height="1.5" fill="#444"/>
<rect x="406.55" y="274.76" width="1.5" height="1.5" fill="#444"/>
<rect x="405.15" y="279.5" width="1.5" height="1.5" fill="#444"/>
<rect x="405.15" y="288.97" width="1.5" height="1.5" fill="#444"/>
<rect x="405.15" y="293.7" width="1.5" height="1.5" fill="#444"/>
<rect x="405.15" y="298.44" width="1.5" height="1.5" fill="#444"/>
<rect x="405.15" y="307.91" width="1.5" height="1.5" fill="#444"/>
<rect x="403.45" y="312.64" width="1.5" height="1.5" fill="#444"/>
<rect x="406.85" y="312.64" width="1.5" height="1.5" fill="#444"/>
<rect x="405.15" y="317.38" width="1.5" height="1.5" fill="#444"/>
<rect x="403.75" y="322.12" width="1.5" height="1.5" fill="#444"/>
<rect x="406.55" y="322.12" width="1.5" height="1.5" fill="#444"/>
<rect x="402.35" y="326.85" width="1.5" height="1.5" fill="#444"/>
<rect x="405.15" y="326.85" width="1.5" height="1.5" fill="#444"/>
<rect x="407.95" y="326.85" width="1.5" height="1.5" fill="#444"/>
<rect x="403.75" y="331.59" width="1.5" height="1.5" fill="#444"/>
<rect x="406.55" y="331.59" width="1.5" height="1.5" fill="#444"/>
<rect x="399.55" y="336.32" width="1.5" height="1.5" fill="#444"/>
<rect x="402.35" y="336.32" width="1.5" height="1.5" fill="#444"/>
<rect x="405.15" y="336.32" width="1.5" height="1.5" fill="#444"/>
<rect x="407.95" y="336.32" width="1.5" height="1.5" fill="#444"/>
<rect x="410.75" y="336.32" width="1.5" height="1.5" fill="#444"/>
<rect x="400.95" y="341.06" width="1.5" height="1.5" fill="#444"/>
<rect x="403.75" y="341.06" width="1.5" height="1.5" fill="#444"/>
<rect x="406.55" y="341.06" width="1.5" height="1.5" fill="#444"/>
<rect x="409.35" y="341.06" width="1.5" height="1.5" fill="#444"/>
<rect x="395.35" y="345.79" width="1.5" height="1.5" fill="#444"/>
<rect x="398.15" y="345.79" width="1.5" height="1.5" fill="#444"/>
<rect x="400.95" y="345.79" width="1.5" height="1.5" fill="#444"/>
<rect x="403.75" y="345.79" width="1.5" height="1.5" fill="#444"/>
<rect x="406.55" y="345.79" width="1.5" height="1.5" fill="#444"/>
<rect x="409.35" y="345.79" width="1.5" height="1.5" fill="#444"/>
<rect x="412.15" y="345.79" width="1.5" height="1.5" fill="#444"/>
<rect x="414.95" y="345.79" width="1.5" height="1.5" fill="#444"/>
<rect x="396.9" y="350.52" width="1.5" height="1.5" fill="#444"/>
<rect x="400.2" y="350.52" width="1.5" height="1.5" fill="#444"/>
<rect x="403.5" y="350.52" width="1.5" height="1.5" fill="#444"/>
<rect x="406.8" y="350.52" width="1.5" height="1.5" fill="#444"/>
<rect x="410.1" y="350.52" width="1.5" height="1.5" fill="#444"/>
<rect x="413.4" y="350.52" width="1.5" height="1.5" fill="#444"/>
<rect x="396.75" y="355.26" width="1.5" height="1.5" fill="#444"/>
<rect x="399.55" y="355.26" width="1.5" height="1.5" fill="#444"/>
<rect x="402.35" y="355.26" width="1.5" height="1.5" fill="#444"/>
<rect x="405.15" y="355.26" width="1.5" height="1.5" fill="#444"/>
<rect x="407.95" y="355.26" width="1.5" height="1.5" fill="#444"/>
<rect x="410.75" y="355.26" width="1.5" height="1.5" fill="#444"/>
<rect x="413.55" y="355.26" width="1.5" height="1.5" fill="#444"/>
<rect x="400.95" y="360" width="1.5" height="1.5" fill="#444"/>
<rect x="403.75" y="360" width="1.5" height="1.5" fill="#444"/>
<rect x="406.55" y="360" width="1.5" height="1.5" fill="#444"/>
<rect x="409.35" y="360" width="1.5" height="1.5" fill="#444"/>
<rect x="396.9" y="364.73" width="1.5" height="1.5" fill="#444"/>
<rect x="400.2" y="364.73" width="1.5" height="1.5" fill="#444"/>
<rect x="403.5" y="364.73" width="1.5" height="1.5" fill="#444"/>
<rect x="406.8" y="364.73" width="1.5" height="1.5" fill="#444"/>
<rect x="410.1" y="364.73" width="1.5" height="1.5" fill="#444"/>
<rect x="413.4" y="364.73" width="1.5" height="1.5" fill="#444"/>
<rect x="388.92" y="369.47" width="1.5" height="1.5" fill="#444"/>
<rect x="391.88" y="369.47" width="1.5" height="1.5" fill="#444"/>
<rect x="394.82" y="369.47" width="1.5" height="1.5" fill="#444"/>
<rect x="397.77" y="369.47" width="1.5" height="1.5" fill="#444"/>
<rect x="400.72" y="369.47" width="1.5" height="1.5" fill="#444"/>
<rect x="403.67" y="369.47" width="1.5" height="1.5" fill="#444"/>
<rect x="406.62" y="369.47" width="1.5" height="1.5" fill="#444"/>
<rect x="409.57" y="369.47" width="1.5" height="1.5" fill="#444"/>
<rect x="412.52" y="369.47" width="1.5" height="1.5" fill="#444"/>
<rect x="415.47" y="369.47" width="1.5" height="1.5" fill="#444"/>
<rect x="418.42" y="369.47" width="1.5" height="1.5" fill="#444"/>
<rect x="421.38" y="369.47" width="1.5" height="1.5" fill="#444"/>
<rect x="398.15" y="374.2" width="1.5" height="1.5" fill="#444"/>
<rect x="400.95" y="374.2" width="1.5" height="1.5" fill="#444"/>
<rect x="403.75" y="374.2" width="1.5" height="1.5" fill="#444"/>
<rect x="406.55" y="374.2" width="1.5" height="1.5" fill="#444"/>
<rect x="409.35" y="374.2" width="1.5" height="1.5" fill="#444"/>
<rect x="412.15" y="374.2" width="1.5" height="1.5" fill="#444"/>
<rect x="391.4" y="378.94" width="1.5" height="1.5" fill="#444"/>
<rect x="393.9" y="378.94" width="1.5" height="1.5" fill="#444"/>
<rect x="396.4" y="378.94" width="1.5" height="1.5" fill="#444"/>
<rect x="398.9" y="378.94" width="1.5" height="1.5" fill="#444"/>
<rect x="401.4" y="378.94" width="1.5" height="1.5" fill="#444"/>
<rect x="403.9" y="378.94" width="1.5" height="1.5" fill="#444"/>
<rect x="406.4" y="378.94" width="1.5" height="1.5" fill="#444"/>
<rect x="408.9" y="378.94" width="1.5" height="1.5" fill="#444"/>
<rect x="411.4" y="378.94" width="1.5" height="1.5" fill="#444"/>
<rect x="413.9" y="378.94" width="1.5" height="1.5" fill="#444"/>
<rect x="416.4" y="378.94" width="1.5" height="1.5" fill="#444"/>
<rect x="418.9" y="378.94" width="1.5" height="1.5" fill="#444"/>
<rect x="402.35" y="383.67" width="1.5" height="1.5" fill="#444"/>
<rect x="405.15" y="383.67" width="1.5" height="1.5" fill="#444"/>
<rect x="407.95" y="383.67" width="1.5" height="1.5" fill="#444"/>
<rect x="403.75" y="388.41" width="1.5" height="1.5" fill="#444"/>
<rect x="406.55" y="388.41" width="1.5" height="1.5" fill="#444"/>
<line x1="300.2" y1="370.22" x2="352.9" y2="370.22" stroke="#222" stroke-width="1.1"/>
<line x1="313.8" y1="365.48" x2="339.6" y2="365.48" stroke="#333" stroke-width="1.9"/>
<line x1="313.6" y1="372" x2="339.6" y2="372" stroke="#111" stroke-width="2.0"/>
<line x1="326.4" y1="365.48" x2="326.4" y2="372" stroke="#111" stroke-width="1.5"/>
<line x1="379.6" y1="356.01" x2="432.1" y2="356.01" stroke="#222" stroke-width="2.1"/>
<line x1="392.9" y1="337.07" x2="418.6" y2="337.07" stroke="#222" stroke-width="2.1"/>
<line x1="392.3" y1="370.22" x2="419.6" y2="370.22" stroke="#222" stroke-width="2.1"/>
<line x1="405.9" y1="337.07" x2="405.9" y2="370.22" stroke="#222" stroke-width="1.6"/>
<text x="514.1" y="218.3" font-family='"Liberation Serif", serif' font-size="17" font-weight="bold" stroke="#000" stroke-width="0.4" fill="#000" textLength="7.03" lengthAdjust="spacingAndGlyphs">e</text>
<line x1="553.5" y1="224" x2="553.5" y2="394.5" stroke="#333" stroke-width="1.2"/>
<line x1="548.3" y1="224.4" x2="553.5" y2="224.4" stroke="#333" stroke-width="1"/>
<text x="533.15" y="228" font-family='"Liberation Sans", sans-serif' font-size="9.8" font-weight="bold" fill="#000" textLength="14.48" lengthAdjust="spacingAndGlyphs">200</text>
<line x1="548.3" y1="266.8" x2="553.5" y2="266.8" stroke="#333" stroke-width="1"/>
<path d="M536.56,270.4L535.37,270.4L535.37,265.37C534.94,265.83 534.43,266.18 533.82,266.43L533.82,265.23C534.15,265.1 534.52,264.86 534.92,264.51C535.32,264.16 535.6,263.79 535.75,263.38L536.56,263.38Z" fill="#000" stroke="#000" stroke-width="0.2"/>
<text x="537.96" y="270.4" font-family='"Liberation Sans", sans-serif' font-size="9.8" font-weight="bold" fill="#000" textLength="4.83" lengthAdjust="spacingAndGlyphs">5</text>
<text x="542.78" y="270.4" font-family='"Liberation Sans", sans-serif' font-size="9.8" font-weight="bold" fill="#000" textLength="4.83" lengthAdjust="spacingAndGlyphs">0</text>
<line x1="548.3" y1="309.2" x2="553.5" y2="309.2" stroke="#333" stroke-width="1"/>
<path d="M536.56,312.8L535.37,312.8L535.37,307.77C534.94,308.23 534.43,308.58 533.82,308.83L533.82,307.63C534.15,307.5 534.52,307.26 534.92,306.91C535.32,306.56 535.6,306.19 535.75,305.78L536.56,305.78Z" fill="#000" stroke="#000" stroke-width="0.2"/>
<text x="537.96" y="312.8" font-family='"Liberation Sans", sans-serif' font-size="9.8" font-weight="bold" fill="#000" textLength="4.83" lengthAdjust="spacingAndGlyphs">0</text>
<text x="542.78" y="312.8" font-family='"Liberation Sans", sans-serif' font-size="9.8" font-weight="bold" fill="#000" textLength="4.83" lengthAdjust="spacingAndGlyphs">0</text>
<line x1="548.3" y1="351.6" x2="553.5" y2="351.6" stroke="#333" stroke-width="1"/>
<text x="537.96" y="355.2" font-family='"Liberation Sans", sans-serif' font-size="9.8" font-weight="bold" fill="#000" textLength="9.65" lengthAdjust="spacingAndGlyphs">50</text>
<line x1="548.3" y1="394" x2="553.5" y2="394" stroke="#333" stroke-width="1"/>
<text x="542.78" y="397.6" font-family='"Liberation Sans", sans-serif' font-size="9.8" font-weight="bold" fill="#000" textLength="4.83" lengthAdjust="spacingAndGlyphs">0</text>
<line x1="553.5" y1="393.9" x2="668.1" y2="393.9" stroke="#858585" stroke-width="1.5"/>
<line x1="576.4" y1="394.4" x2="576.4" y2="399.4" stroke="#222" stroke-width="1.1"/>
<line x1="610.5" y1="394.4" x2="610.5" y2="399.4" stroke="#222" stroke-width="1.1"/>
<line x1="644.4" y1="394.4" x2="644.4" y2="399.4" stroke="#222" stroke-width="1.1"/>
<rect x="565.45" y="266.55" width="22.1" height="89.9" fill="#c28bb9" stroke="#1e1e1e" stroke-width="1.1"/>
<line x1="565.1" y1="313.1" x2="587.9" y2="313.1" stroke="#2a1f29" stroke-width="1.1"/>
<rect x="599.3" y="251.35" width="22.1" height="86" fill="#c28bb9" stroke="#1e1e1e" stroke-width="1.1"/>
<line x1="598.95" y1="293.2" x2="621.75" y2="293.2" stroke="#2a1f29" stroke-width="1.1"/>
<rect x="633.55" y="264.15" width="22.1" height="87.6" fill="#c28bb9" stroke="#1e1e1e" stroke-width="1.1"/>
<line x1="633.2" y1="297.5" x2="656" y2="297.5" stroke="#2a1f29" stroke-width="1.1"/>
<path d="M576.3,245.5 V234.1 H645.6 V245.5" fill="none" stroke="#333" stroke-width="1"/>
<polygon points="607.4,226.1 607.93,227.37 609.3,227.48 608.26,228.38 608.58,229.72 607.4,229 606.22,229.72 606.54,228.38 605.5,227.48 606.87,227.37" fill="#151515"/>
<polygon points="611.25,226.1 611.78,227.37 613.15,227.48 612.11,228.38 612.43,229.72 611.25,229 610.07,229.72 610.39,228.38 609.35,227.48 610.72,227.37" fill="#151515"/>
<polygon points="615.1,226.1 615.63,227.37 617,227.48 615.96,228.38 616.28,229.72 615.1,229 613.92,229.72 614.24,228.38 613.2,227.48 614.57,227.37" fill="#151515"/>
<polygon points="573,258.7 573.48,259.84 574.71,259.94 573.77,260.75 574.06,261.96 573,261.31 571.94,261.96 572.23,260.75 571.29,259.94 572.52,259.84" fill="#151515"/>
<polygon points="576.85,258.7 577.33,259.84 578.56,259.94 577.62,260.75 577.91,261.96 576.85,261.31 575.79,261.96 576.08,260.75 575.14,259.94 576.37,259.84" fill="#151515"/>
<polygon points="580.7,258.7 581.18,259.84 582.41,259.94 581.47,260.75 581.76,261.96 580.7,261.31 579.64,261.96 579.93,260.75 578.99,259.94 580.22,259.84" fill="#151515"/>
<text x="641.58" y="260.2" font-family='"Liberation Sans", sans-serif' font-size="8.2" font-weight="normal" fill="#111" textLength="7.63" lengthAdjust="spacingAndGlyphs">ns</text>
<text transform="translate(527.6,331.85) rotate(-90)" x="-0.13" y="0" font-family='"Liberation Serif", serif' font-size="10.4" font-weight="bold" stroke="#000" stroke-width="0.25" fill="#000" textLength="11.88" lengthAdjust="spacingAndGlyphs">Hb</text>
<path d="M519.9,315.9 A4.2,1.8 0 0 0 528.3,315.9" fill="none" stroke="#333" stroke-width="0.8"/>
<text transform="translate(527.6,309.45) rotate(-90)" x="-0.25" y="0" font-family='"Liberation Serif", serif' font-size="10.4" font-weight="bold" stroke="#000" stroke-width="0.25" fill="#000" textLength="14.45" lengthAdjust="spacingAndGlyphs">g/L</text>
<path d="M519.9,294.0 A4.2,2.1 0 0 1 528.3,294.0" fill="none" stroke="#333" stroke-width="0.8"/>
<text transform="translate(586.8,406.5) rotate(-48)" font-family='"Liberation Serif", serif' font-size="10.2" font-weight="bold" text-anchor="end" fill="#000" stroke="#000" stroke-width="0.25">Baseline</text>
<text transform="translate(620.8,405.5) rotate(-48)" font-family='"Liberation Serif", serif' font-size="10.2" font-weight="bold" text-anchor="end" fill="#000" stroke="#000" stroke-width="0.25">Pre-transplant</text>
<text transform="translate(654.8,405.5) rotate(-48)" font-family='"Liberation Serif", serif' font-size="10.2" font-weight="bold" text-anchor="end" fill="#000" stroke="#000" stroke-width="0.25">Post-transplant</text>
</svg>
</body></html>
